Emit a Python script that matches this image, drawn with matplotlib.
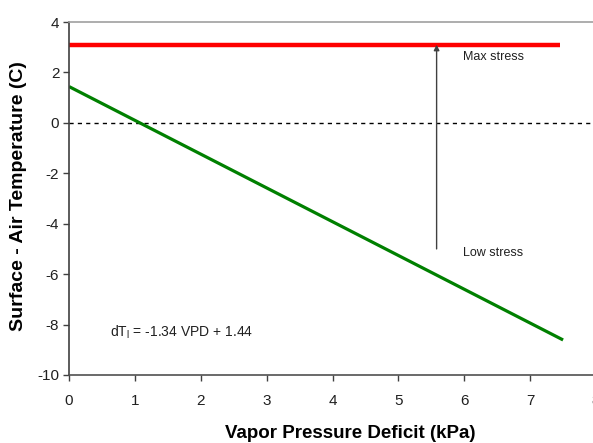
import matplotlib
matplotlib.use("Agg")
import matplotlib.pyplot as plt

plt.rcParams["font.family"] = ["Liberation Sans", "DejaVu Sans"]
plt.rcParams["axes.unicode_minus"] = False

# 数据
vpd = [0.0, 7.5]
dt_leaf = [1.44, -8.61]
max_stress_x = [0.0, 7.45]
max_stress_y = [3.1, 3.1]
arrow_x = 5.58
arrow_from = -5.0
xticks = [0, 1, 2, 3, 4, 5, 6, 7, 8]
yticks = [-10, -8, -6, -4, -2, 0, 2, 4]

fig = plt.figure(figsize=(5.93, 4.43), dpi=100)
ax = fig.add_axes([0.1164, 0.1535, 0.8887, 0.7968])

ax.axhline(0, color="black", linewidth=1, linestyle=(0, (3, 3)))
ax.plot(max_stress_x, max_stress_y, color="#ff0000", linewidth=3.2, solid_capstyle="butt")
ax.plot(vpd, dt_leaf, color="#008000", linewidth=2.3, solid_capstyle="butt")

# 应力箭头：从低应力指向最大应力线
ax.annotate("", xy=(arrow_x, max_stress_y[0]), xytext=(arrow_x, arrow_from),
            arrowprops=dict(arrowstyle="-|>", color="#404040", lw=1,
                            mutation_scale=8, shrinkA=0, shrinkB=0))

ax.text(5.98, 2.6, "Max stress", fontsize=9, va="center", ha="left", color="#202020")
ax.text(5.98, -5.17, "Low stress", fontsize=9, va="center", ha="left", color="#202020")
ax.text(0.62, -8.3, r"dT$_\mathregular{l}$ = -1.34 VPD + 1.44", fontsize=10,
        va="center", ha="left", color="#202020")

ax.set_xlim(0, 8)
ax.set_ylim(-10, 4)
ax.set_xticks(xticks)
ax.set_yticks(yticks)
ax.tick_params(labelsize=11, length=4, width=1, color="#404040", labelcolor="#202020")
ax.tick_params(axis="x", pad=10)
ax.tick_params(axis="y", pad=3)

ax.spines["right"].set_visible(False)
ax.spines["left"].set_color("#404040")
ax.spines["bottom"].set_color("#505050")
ax.spines["top"].set_color("#a0a0a0")
for s in ["left", "bottom", "top"]:
    ax.spines[s].set_linewidth(1.2)

fig.text(350 / 593, 1 - 433 / 443, "Vapor Pressure Deficit (kPa)", fontsize=13.5,
         fontweight="bold", ha="center", va="center")
fig.text(19 / 593, 1 - 196 / 443, "Surface - Air Temperature (C)", fontsize=14,
         fontweight="bold", ha="center", va="center", rotation=90)

fig.savefig("out.png", dpi=100)
